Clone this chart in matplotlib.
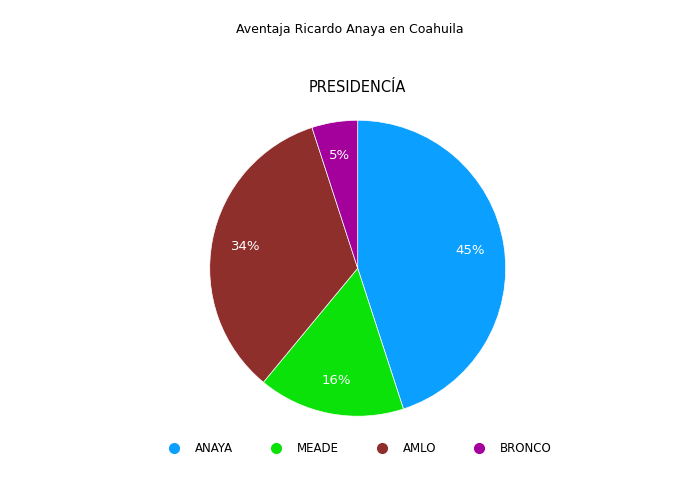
import matplotlib
matplotlib.use("Agg")
import matplotlib.pyplot as plt
from matplotlib.lines import Line2D

labels = ["ANAYA", "MEADE", "AMLO", "BRONCO"]
values = [45, 16, 34, 5]
colors = ["#0ba0ff", "#0ae20a", "#8e2f2b", "#a3009c"]

fig = plt.figure(figsize=(7, 4.79), dpi=100)
fig.text(0.5, 1 - 30/479, "Aventaja Ricardo Anaya en Coahuila", ha="center", va="center", fontsize=9)
fig.text(0.511, 1 - 88/479, "PRESIDENCÍA", ha="center", va="center", fontsize=10.5)

ax = fig.add_axes([0.511 - 0.2114, 0.440 - 0.309, 0.4228, 0.618])
ax.pie(values, colors=colors, startangle=90, counterclock=False,
       autopct=lambda p: f"{p:.0f}%", pctdistance=0.77,
       textprops=dict(color="white", fontsize=9.5),
       wedgeprops=dict(linewidth=0.5, edgecolor="white"))
ax.set_xlim(-1, 1)
ax.set_ylim(-1, 1)
ax.set_aspect("equal")

handles = [Line2D([], [], marker="o", linestyle="", markersize=7, color=c) for c in colors]
fig.legend(handles, labels, loc="center", bbox_to_anchor=(0.51, 1 - 449/479), ncol=4,
           frameon=False, fontsize=8.5, columnspacing=2.6, handletextpad=0.8)
fig.savefig("out.png", dpi=100)
